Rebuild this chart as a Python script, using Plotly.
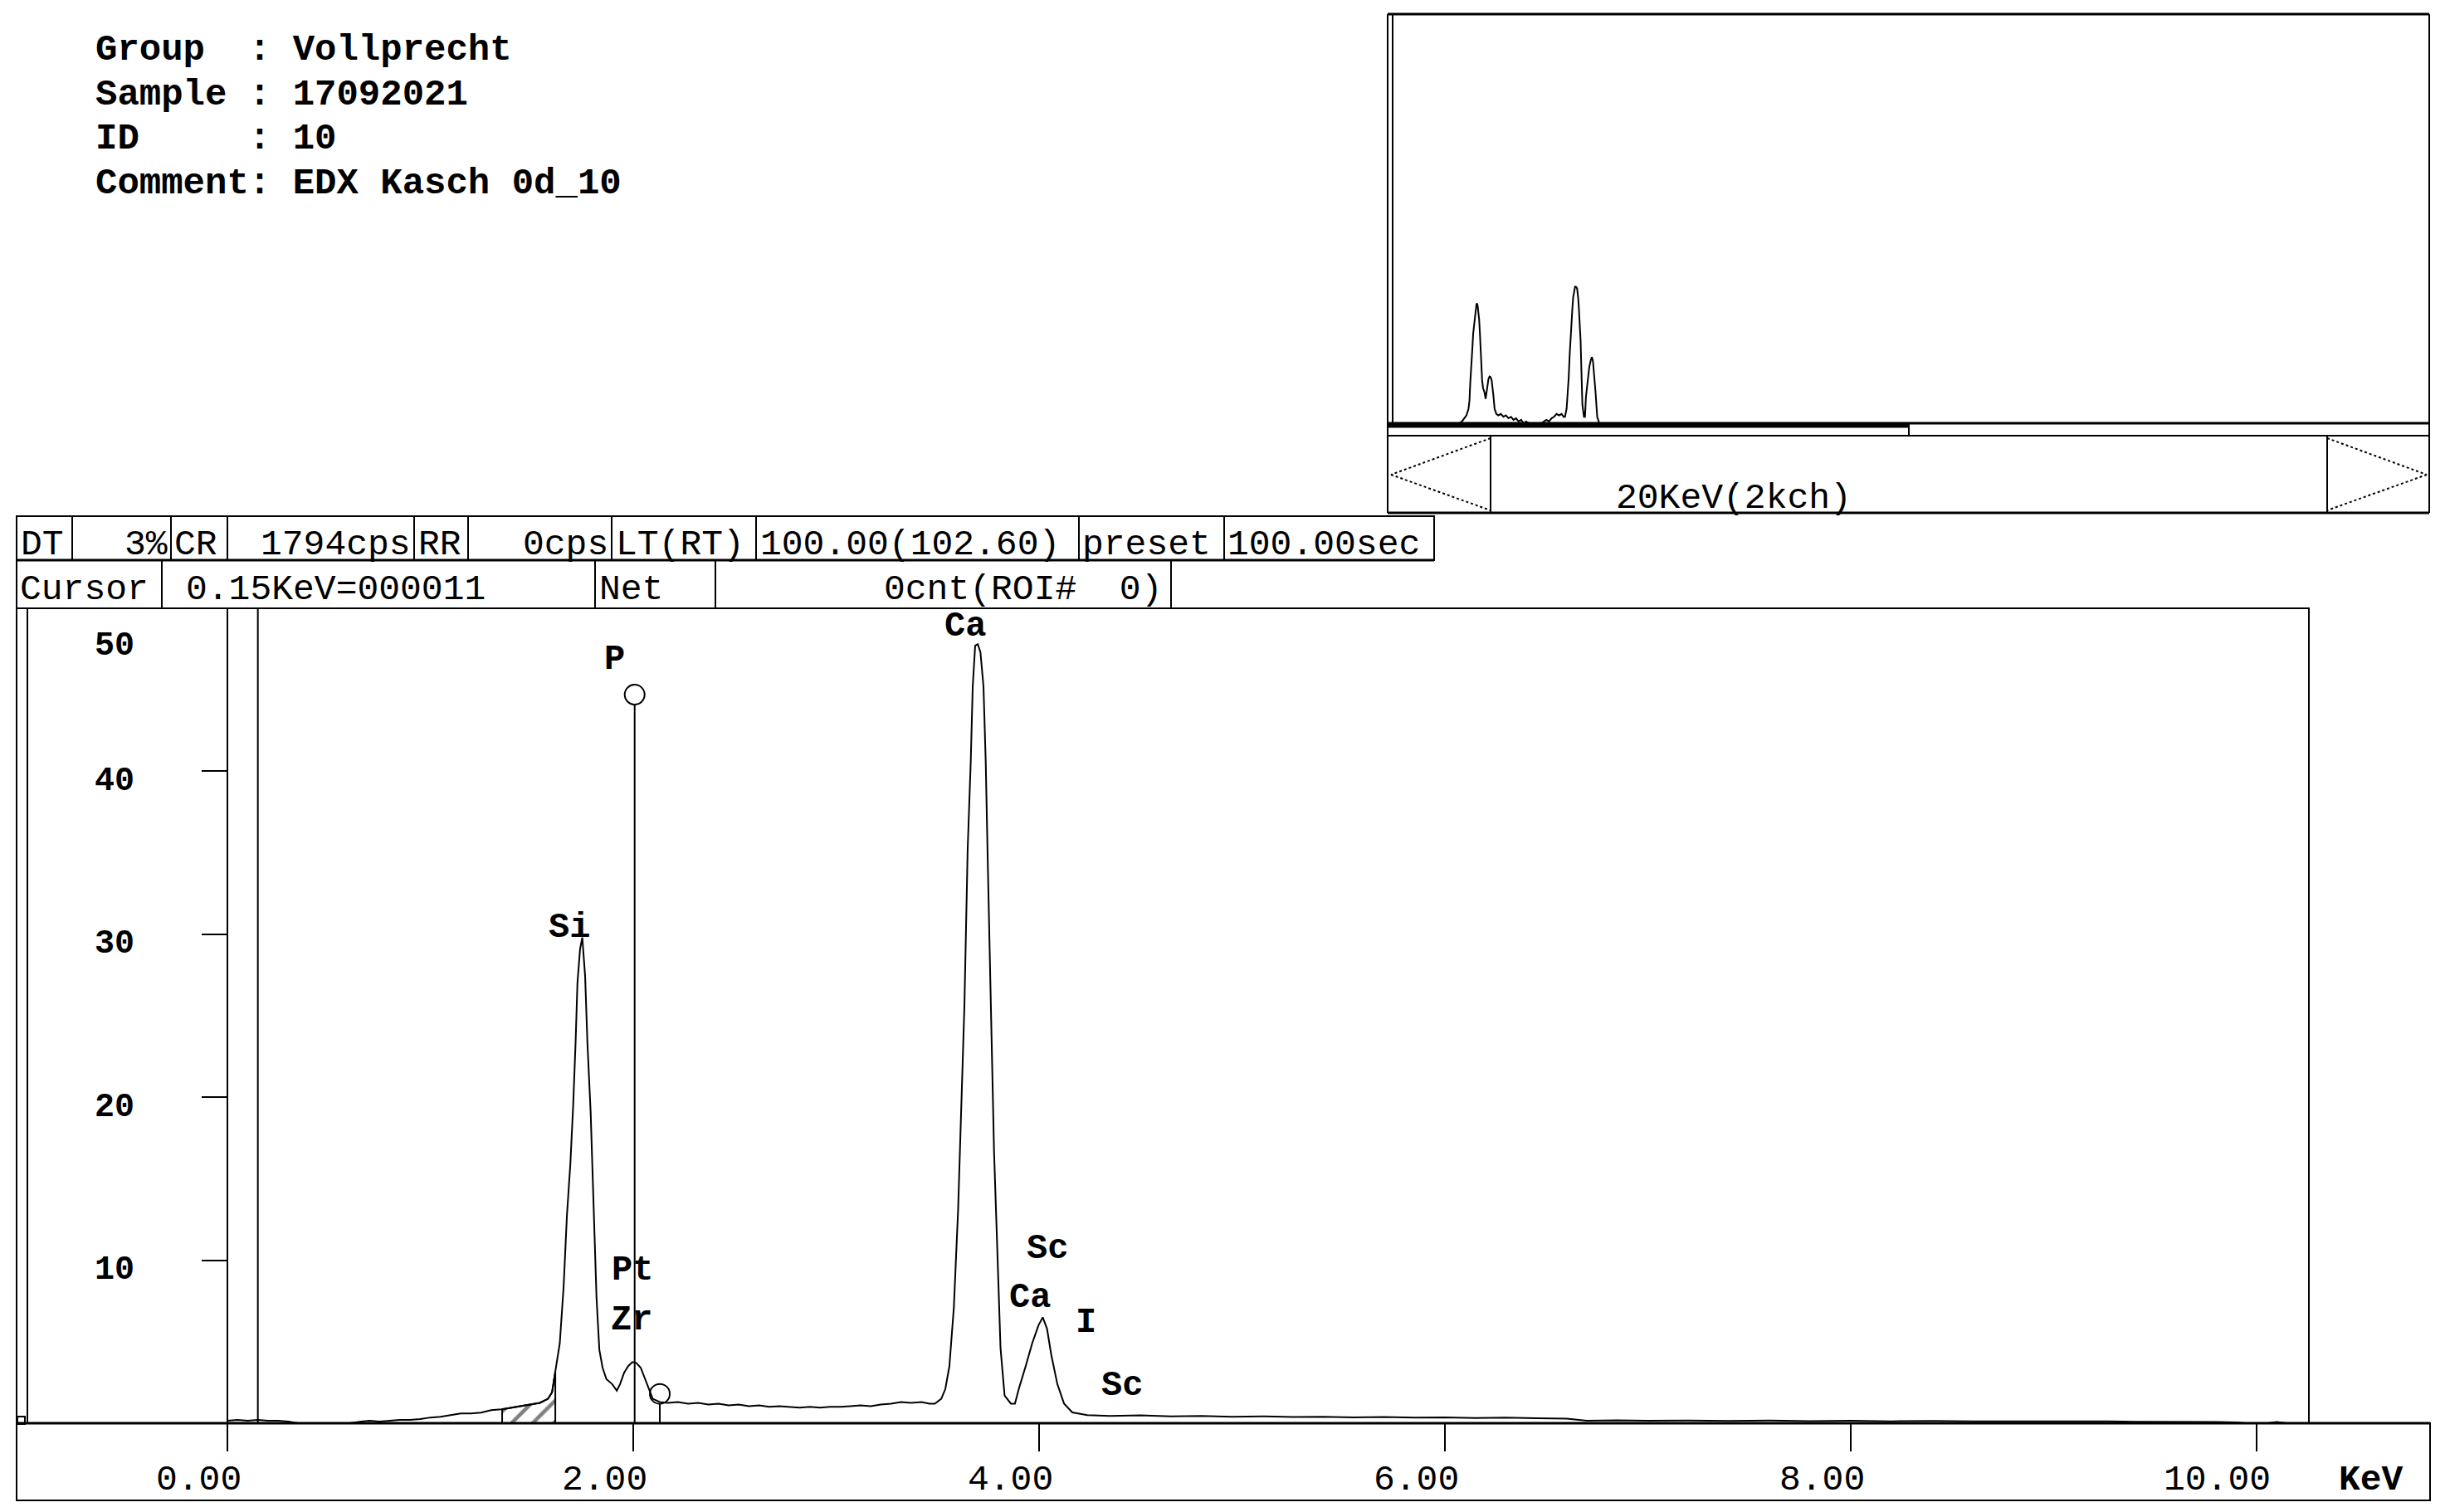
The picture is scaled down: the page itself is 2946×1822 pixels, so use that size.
import plotly.graph_objects as go
import numpy as np

# page coordinates of the reference (body has an 8 px default margin)
PAGE_W, PAGE_H = 2946, 1822
OFF = 8
W, H = PAGE_W - 2 * OFF, PAGE_H - 2 * OFF


def px(x):
    return (x - OFF) / W


def py(y):
    return 1 - (y - OFF) / H


# ---------------- data ----------------
energy_kev = [
    0.00, 0.05, 0.10, 0.15, 0.20, 0.25, 0.30, 0.35, 0.40, 0.50, 0.60, 0.66, 0.70, 0.75, 0.80,
    0.85, 0.90, 0.95, 1.00, 1.05, 1.10, 1.15, 1.20, 1.25, 1.30, 1.35, 1.40, 1.45, 1.50, 1.54,
    1.58, 1.60, 1.615, 1.638, 1.657, 1.673, 1.690, 1.704, 1.716, 1.725, 1.738, 1.749, 1.763,
    1.774, 1.790, 1.805, 1.819, 1.833, 1.849, 1.868, 1.896, 1.919, 1.935, 1.955, 1.975, 1.996,
    2.015, 2.037, 2.055, 2.072, 2.096, 2.131, 2.17, 2.22, 2.27, 2.32, 2.37, 2.42, 2.47, 2.52,
    2.57, 2.62, 2.67, 2.72, 2.77, 2.82, 2.87, 2.92, 2.97, 3.02, 3.07, 3.12, 3.17, 3.22, 3.27,
    3.32, 3.37, 3.42, 3.46, 3.486, 3.518, 3.538, 3.558, 3.580, 3.601, 3.616, 3.632, 3.648,
    3.663, 3.673, 3.685, 3.698, 3.711, 3.726, 3.737, 3.747, 3.757, 3.767, 3.778, 3.795, 3.810,
    3.830, 3.861, 3.881, 3.900, 3.934, 3.966, 3.997, 4.018, 4.039, 4.060, 4.090, 4.123, 4.164,
    4.237, 4.35, 4.50, 4.65, 4.80, 4.95, 5.10, 5.25, 5.40, 5.55, 5.70, 5.85, 6.00, 6.15, 6.30,
    6.45, 6.60, 6.70, 6.85, 7.00, 7.20, 7.40, 7.60, 7.80, 8.00, 8.20, 8.40, 8.60, 8.80, 9.00,
    9.20, 9.40, 9.60, 9.80, 9.90, 9.95, 10.05, 10.10, 10.15, 10.20,
]
counts = [
    0.15, 0.2, 0.15, 0.2, 0.15, 0.15, 0.1, 0.0, 0.0, 0.0, 0.0, 0.1, 0.15, 0.1, 0.15,
    0.2, 0.2, 0.25, 0.35, 0.4, 0.5, 0.6, 0.6, 0.65, 0.8, 0.85, 0.95, 1.05, 1.15, 1.25,
    1.5, 1.9, 3.1, 4.9, 8.4, 12.7, 15.9, 19.5, 23.4, 27.0, 29.1, 29.8, 27.4,
    23.4, 19.1, 13.1, 7.7, 4.5, 3.4, 2.7, 2.4, 2.0, 2.4, 3.1, 3.5, 3.75,
    3.7, 3.4, 2.8, 2.2, 1.5, 1.3, 1.25, 1.3, 1.2, 1.25, 1.15, 1.2, 1.1, 1.15,
    1.05, 1.1, 1.0, 1.05, 1.0, 0.95, 1.0, 0.95, 1.0, 1.0, 1.05, 1.1, 1.05, 1.15, 1.2,
    1.3, 1.25, 1.3, 1.2, 1.2, 1.5, 2.1, 3.5, 7.1, 13.1, 19.2, 25.6, 35.2,
    40.5, 45.2, 47.7, 47.8, 47.3, 45.2, 40.6, 34.5, 28.4, 23.1, 16.7, 10.3, 4.6,
    1.7, 1.2, 1.2, 2.1, 3.5, 4.9, 6.0, 6.5, 5.8, 4.2, 2.4, 1.2, 0.66,
    0.5, 0.45, 0.48, 0.42, 0.45, 0.4, 0.42, 0.38, 0.4, 0.36, 0.38, 0.35, 0.36, 0.32, 0.34,
    0.3, 0.28, 0.15, 0.18, 0.15, 0.17, 0.14, 0.16, 0.13, 0.15, 0.12, 0.14, 0.11, 0.12, 0.1,
    0.12, 0.09, 0.1, 0.08, 0.05, 0.0, 0.0, 0.08, 0.0, 0.0,
]

peak_labels = ["P", "Si", "Pt", "Zr", "Ca", "Sc", "Ca", "I", "Sc"]
peak_label_kev = [1.908, 1.685, 1.997, 1.990, 3.636, 4.039, 3.955, 4.231, 4.411]
peak_label_cnt = [46.85, 30.4, 9.35, 6.32, 48.9, 10.7, 7.7, 6.15, 2.3]

marker_kev = [2.007, 2.131]
marker_cnt = [44.7, 1.8]

roi_kev = [1.354, 1.616]
cursor_kev = 0.15

x_ticks = [0, 2, 4, 6, 8, 10]
x_tick_labels = ["0.00", "2.00", "4.00", "6.00", "8.00", "10.00"]
y_ticks = [10, 20, 30, 40, 50]
y_tick_labels = ["10", "20", "30", "40", "50"]

header_lines = [
    "Group\u00a0\u00a0:\u00a0Vollprecht",
    "Sample\u00a0:\u00a017092021",
    "ID\u00a0\u00a0\u00a0\u00a0\u00a0:\u00a010",
    "Comment:\u00a0EDX\u00a0Kasch\u00a00d_10",
]
status_row1 = ["DT", "3%", "CR", "1794cps", "RR", "0cps", "LT(RT)",
               "100.00(102.60)", "preset", "100.00sec"]
status_row2 = ["Cursor", "0.15KeV=000011", "Net", "0cnt(ROI#\u00a0\u00a00)"]
inset_label = "20KeV(2kch)"
unit_label = "KeV"

# ---------------- geometry (page pixels) ----------------
X0_PX, KEV_PX = 274, 244.5          # x=0 keV position, px per keV
BASE_PX, CNT_PX = 1715, 19.64       # baseline, px per count
FR_L, FR_R, FR_T = 20, 2782, 733
x_min = (FR_L - X0_PX) / KEV_PX
x_max = (FR_R - X0_PX) / KEV_PX
y_max = (BASE_PX - FR_T) / CNT_PX

FONT = "Liberation Mono, Courier New, monospace"
BLACK = "black"

fig = go.Figure()

# main spectrum
fig.add_trace(go.Scatter(x=energy_kev, y=counts, mode="lines",
                         line=dict(color=BLACK, width=2), xaxis="x", yaxis="y",
                         hoverinfo="skip"))

# ROI hatched region
e_arr = np.array(energy_kev)
c_arr = np.array(counts)
c_lo = float(np.interp(roi_kev[0], e_arr, c_arr))
c_hi = float(np.interp(roi_kev[1], e_arr, c_arr))
inside = (e_arr > roi_kev[0]) & (e_arr < roi_kev[1])
roi_x = [roi_kev[0]] + list(e_arr[inside]) + [roi_kev[1]]
roi_y = [c_lo] + list(c_arr[inside]) + [c_hi]
fig.add_trace(go.Scatter(x=roi_x, y=roi_y, mode="lines", fill="tozeroy",
                         line=dict(color=BLACK, width=2),
                         fillcolor="rgba(0,0,0,0)",
                         fillpattern=dict(shape="/", size=18, solidity=0.25,
                                          fgcolor=BLACK, bgcolor="rgba(0,0,0,0)"),
                         xaxis="x", yaxis="y", hoverinfo="skip"))
for e, c in zip(roi_kev, [c_lo, c_hi]):
    fig.add_trace(go.Scatter(x=[e, e], y=[0, c], mode="lines",
                             line=dict(color=BLACK, width=2), xaxis="x", yaxis="y",
                             hoverinfo="skip"))

# KLM markers
for e, c in zip(marker_kev, marker_cnt):
    fig.add_trace(go.Scatter(x=[e, e], y=[0, c - 0.6], mode="lines",
                             line=dict(color=BLACK, width=2), xaxis="x", yaxis="y",
                             hoverinfo="skip"))
    fig.add_trace(go.Scatter(x=[e], y=[c], mode="markers",
                             marker=dict(symbol="circle-open", size=24,
                                         line=dict(color=BLACK, width=2), color=BLACK),
                             xaxis="x", yaxis="y", hoverinfo="skip"))

# inset spectrum (log scale, counts below 1 sit on the baseline)
fig.add_trace(go.Scatter(x=energy_kev, y=np.maximum(c_arr, 1.0), mode="lines",
                         line=dict(color=BLACK, width=2), xaxis="x2", yaxis="y2",
                         hoverinfo="skip"))

# ---------------- shapes ----------------
shapes = []


def line_px(x0, y0, x1, y1, w=2, dash="solid"):
    shapes.append(dict(type="line", xref="paper", yref="paper",
                       x0=px(x0), y0=py(y0), x1=px(x1), y1=py(y1),
                       line=dict(color=BLACK, width=w, dash=dash)))


def rect_px(x0, y0, x1, y1, w=2, fill=None):
    shapes.append(dict(type="rect", xref="paper", yref="paper",
                       x0=px(x0), y0=py(y0), x1=px(x1), y1=py(y1),
                       line=dict(color=BLACK, width=w),
                       fillcolor=fill if fill else "rgba(0,0,0,0)"))


# main frame and bottom label box
rect_px(FR_L, FR_T, FR_R, BASE_PX, w=2)
rect_px(FR_L, BASE_PX, 2928, 1808, w=2)
line_px(FR_L, BASE_PX, 2928, BASE_PX, w=3)
line_px(33, FR_T, 33, BASE_PX, w=2)
rect_px(21, 1707, 30, 1716, w=2)

# cursor line
shapes.append(dict(type="line", xref="x", yref="y", x0=cursor_kev, x1=cursor_kev,
                   y0=0, y1=y_max, line=dict(color=BLACK, width=2)))

# status rows
row1_edges = [20, 87, 206, 274, 499, 564, 737, 911, 1300, 1475, 1728]
for a, b in zip(row1_edges[:-1], row1_edges[1:]):
    rect_px(a, 622, b, 675, w=2)
row2_edges = [20, 195, 717, 862, 1411]
for a, b in zip(row2_edges[:-1], row2_edges[1:]):
    rect_px(a, 675, b, FR_T, w=2)
line_px(20, 675, 1728, 675, w=3)

# inset frame
line_px(1672, 17, 2927, 17, w=3)
line_px(1672, 17, 1672, 618, w=2)
line_px(1678, 17, 1678, 510, w=2)
line_px(2927, 17, 2927, 618, w=2)
line_px(1672, 510, 2927, 510, w=3)
rect_px(1672, 510, 2300, 515, w=1, fill=BLACK)
line_px(2300, 510, 2300, 525, w=2)
line_px(1672, 525, 2927, 525, w=2)
line_px(1796, 525, 1796, 618, w=2)
line_px(2804, 525, 2804, 618, w=2)
line_px(1672, 618, 2927, 618, w=3)
# arrows
line_px(1796, 528, 1676, 572, w=2, dash="dot")
line_px(1676, 572, 1796, 615, w=2, dash="dot")
line_px(2804, 528, 2924, 572, w=2, dash="dot")
line_px(2924, 572, 2804, 615, w=2, dash="dot")

# ---------------- annotations ----------------
ann = []


def text_px(x, y, s, size=43, xanchor="left", bold=False):
    ann.append(dict(xref="paper", yref="paper", x=px(x), y=py(y),
                    text=("<b>%s</b>" % s) if bold else s, showarrow=False,
                    xanchor=xanchor, yanchor="middle",
                    font=dict(family=FONT, size=size, color=BLACK)))


# header
for i, s in enumerate(header_lines):
    text_px(113, 60 + i * 53.5, s, size=44, bold=True)

# status row 1
row1_pos = [(23, "left"), (204, "right"), (208, "left"), (497, "right"), (502, "left"),
            (735, "right"), (740, "left"), (914, "left"), (1302, "left"), (1477, "left")]
for s, (x, anc) in zip(status_row1, row1_pos):
    text_px(x, 656, s, size=43, xanchor=anc)
row2_pos = [(22, "left"), (222, "left"), (720, "left"), (1402, "right")]
for s, (x, anc) in zip(status_row2, row2_pos):
    text_px(x, 710, s, size=43, xanchor=anc)

# y tick labels
for v, s in zip(y_ticks, y_tick_labels):
    yy = min(v - 12 / CNT_PX, (BASE_PX - 778) / CNT_PX)
    ann.append(dict(xref="paper", yref="y", x=px(164), y=yy, text="<b>%s</b>" % s,
                    showarrow=False, xanchor="right", yanchor="middle",
                    font=dict(family=FONT, size=40, color=BLACK)))

# x tick labels
for v, s in zip(x_ticks, x_tick_labels):
    ann.append(dict(xref="x", yref="paper", x=v + 19 / KEV_PX, y=py(1783), text=s,
                    showarrow=False, xanchor="right", yanchor="middle",
                    font=dict(family=FONT, size=43, color=BLACK)))
text_px(2857, 1783, unit_label, size=43, xanchor="center", bold=True)

# element labels
for s, e, c in zip(peak_labels, peak_label_kev, peak_label_cnt):
    ann.append(dict(xref="x", yref="y", x=e, y=c, text="<b>%s</b>" % s,
                    showarrow=False, xanchor="center", yanchor="middle",
                    font=dict(family=FONT, size=42, color=BLACK)))

# inset label
text_px(2089, 600, inset_label, size=43, xanchor="center")

fig.update_layout(
    width=W, height=H,
    margin=dict(l=0, r=0, t=0, b=0),
    paper_bgcolor="white", plot_bgcolor="white",
    showlegend=False,
    xaxis=dict(domain=[px(FR_L), px(FR_R)], range=[x_min, x_max], anchor="y",
               showgrid=False, zeroline=False, showline=False,
               ticks="outside", tickvals=x_ticks, ticklen=33, tickwidth=2,
               tickcolor=BLACK, showticklabels=False, fixedrange=True),
    yaxis=dict(domain=[py(BASE_PX), py(FR_T)], range=[0, y_max], anchor="free",
               position=px(X0_PX), showgrid=False, zeroline=False,
               showline=True, linewidth=2, linecolor=BLACK,
               ticks="outside", tickvals=y_ticks[:-1], ticklen=30, tickwidth=2,
               tickcolor=BLACK, showticklabels=False, fixedrange=True),
    xaxis2=dict(domain=[px(1673), px(2927)], range=[0, (2927 - 1673) / 61.0],
                anchor="y2", visible=False, fixedrange=True),
    yaxis2=dict(domain=[py(510), py(17)], type="log", range=[0, (510 - 17) / 98.0],
                anchor="x2", visible=False, fixedrange=True),
    shapes=shapes,
    annotations=ann,
)

fig.write_html("out.html")
